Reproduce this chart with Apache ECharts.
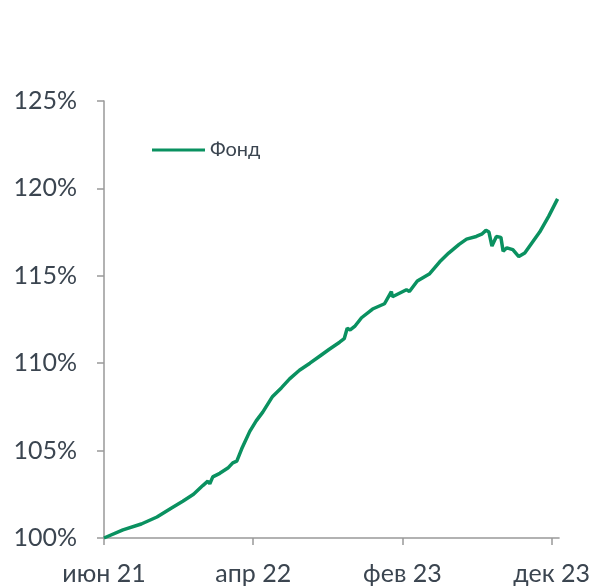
<!DOCTYPE html>
<html>
<head>
<meta charset="utf-8">
<script src="https://cdn.jsdelivr.net/npm/echarts@6/dist/echarts.min.js"></script>
<style>
  html, body { margin: 0; padding: 0; background: #fff; }
  #chart { width: 593px; height: 586px; }
</style>
</head>
<body>
<div id="chart"></div>
<script>
// months since June 2021
const months = [
  0, 1.27, 2.5, 3.55, 4.5, 5.28, 6.0, 6.62, 6.96, 7.09, 7.29, 7.76, 8.3, 8.63, 8.9,
  9.23, 9.77, 10.2, 10.64, 11.3, 11.9, 12.44, 13.1, 13.8, 14.45, 15.1, 15.79, 16.1, 16.3,
  16.5, 16.8, 17.26, 18.0, 18.8, 19.26, 19.33, 19.8, 20.27, 20.47, 21.0, 21.8, 22.5,
  23.1, 23.8, 24.3, 24.95, 25.35, 25.6, 25.8, 26.0, 26.3, 26.6, 26.75, 27.0, 27.4,
  27.8, 28.2, 28.7, 29.2, 29.8, 30.4
];
const fund = [
  100.0, 100.46, 100.8, 101.2, 101.7, 102.1, 102.5, 103.0, 103.25, 103.1, 103.5, 103.7, 104.0, 104.3, 104.4,
  105.1, 106.1, 106.7, 107.2, 108.1, 108.6, 109.1, 109.6, 110.0, 110.4, 110.8, 111.2, 111.4, 112.0,
  111.9, 112.1, 112.6, 113.1, 113.4, 114.1, 113.8, 114.0, 114.2, 114.1, 114.7, 115.1, 115.8,
  116.3, 116.8, 117.1, 117.25, 117.4, 117.6, 117.5, 116.7, 117.25, 117.2, 116.4, 116.6, 116.5,
  116.1, 116.3, 116.9, 117.5, 118.4, 119.4
];
const xTicks = [0, 10, 20, 30];
const xTickLabels = ['июн 21', 'апр 22', 'фев 23', 'дек 23'];

const chart = echarts.init(document.getElementById('chart'));
const textColor = '#3b4550';
const font = 'Lato, "Noto Sans", sans-serif';

chart.setOption({
  animation: false,
  grid: { left: 104, top: 101, width: 456, height: 439 },
  legend: {
    left: 152,
    top: 140,
    padding: 0,
    icon: 'rect',
    itemWidth: 53,
    itemHeight: 3,
    textStyle: { fontFamily: font, fontSize: 20, color: textColor },
    data: ['Фонд']
  },
  xAxis: {
    type: 'value',
    min: 0,
    max: 30.5,
    interval: 10,
    splitLine: { show: false },
    axisLine: { lineStyle: { color: '#999', width: 1.5 } },
    axisTick: { show: true, length: 7, customValues: xTicks, lineStyle: { color: '#999', width: 1.5 } },
    axisLabel: {
      customValues: xTicks,
      margin: 23,
      fontFamily: font,
      fontSize: 25,
      color: textColor,
      formatter: (v) => xTickLabels[xTicks.indexOf(Math.round(v))] || ''
    }
  },
  yAxis: {
    type: 'value',
    min: 100,
    max: 125,
    interval: 5,
    splitLine: { show: false },
    axisLine: { show: true, lineStyle: { color: '#999', width: 1.5 } },
    axisTick: { show: true, length: 7, lineStyle: { color: '#999', width: 1.5 } },
    axisLabel: {
      margin: 27,
      fontFamily: font,
      fontSize: 25,
      color: textColor,
      formatter: (v) => v + '%'
    }
  },
  series: [{
    name: 'Фонд',
    type: 'line',
    symbol: 'none',
    lineStyle: { color: '#0a9160', width: 3.5 },
    itemStyle: { color: '#0a9160' },
    data: months.map((m, i) => [m, fund[i]])
  }]
});
</script>
</body>
</html>
